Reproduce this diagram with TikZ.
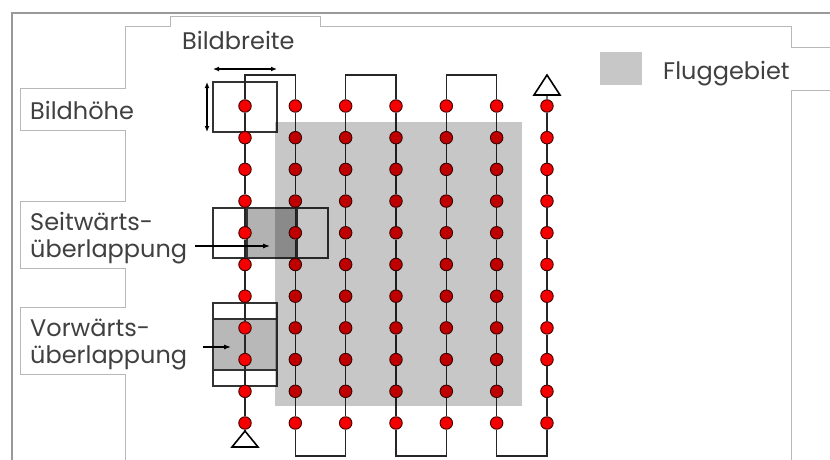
\documentclass[tikz,border=0pt]{standalone}
\usepackage{fontspec}
\setmainfont{Poppins}
\usetikzlibrary{arrows.meta}
\definecolor{rahmen}{gray}{0.6}
\definecolor{kasten}{gray}{0.72}
\definecolor{schrift}{gray}{0.25}
\definecolor{punkt}{RGB}{245,0,0}
\begin{document}
\begin{tikzpicture}[x=1pt,y=-1pt,
  wegpunkt/.style={circle,draw=black!75!red,fill=punkt,line width=0.9pt,minimum size=12.5pt,inner sep=0pt},
  flugweg/.style={draw=black!85,line width=1.4pt},
  bild/.style={draw=black!80,line width=1.2pt},
  marke/.style={draw=black,fill=white,line width=1.6pt,line join=miter},
  beschriftung/.style={font=\fontsize{24}{27}\selectfont,text=schrift,inner sep=0pt,align=left},
  masspfeil/.style={line width=1.2pt,{Latex[length=6pt,width=5pt]}-{Latex[length=6pt,width=5pt]}},
  zeigepfeil/.style={line width=1.1pt,-{Latex[length=7pt,width=5pt]}}]
\useasboundingbox (0,0) rectangle (830,460);
\fill[white] (0,0) rectangle (830,460);
\draw[rahmen,line width=1.5pt] (12,460) -- (12,13) -- (830,13);
\draw[kasten,line width=1pt] (125,460) -- (125,374) -- (20,374) -- (20,307) -- (125,307) -- (125,268) -- (20,268) -- (20,201) -- (125,201) -- (125,130) -- (20,130) -- (20,88) -- (125,88) -- (125,27) -- (170,27) -- (170,17) -- (320,17) -- (320,27) -- (791,27) -- (791,48) -- (830,48);
\draw[kasten,line width=1pt] (830,90) -- (791,90) -- (791,460);
\fill[black,opacity=.3] (247,208) rectangle (297,258);
\fill[black,opacity=.28] (213,319) rectangle (277,370);
\draw[bild] (213,82) rectangle (277,132);
\draw[bild] (213,208) rectangle (297,258);
\draw[bild] (247,208) rectangle (328,258);
\draw[bild] (213,303) rectangle (277,370);
\draw[bild] (213,319) rectangle (277,386);
\foreach \i in {0,...,6}{
  \coordinate (t\i) at (245+50.33*\i,75);
  \coordinate (b\i) at (245+50.33*\i,456);
  \foreach \j in {0,...,10}
    \node[wegpunkt] (p\i-\j) at (245+50.33*\i,106+31.7*\j) {};
  \foreach \j [count=\k from 1] in {0,...,9}
    \draw[flugweg] (p\i-\j) -- (p\i-\k);
}
\foreach \a/\b in {0/1,2/3,4/5}
  \draw[flugweg] (p\a-0) -- (t\a) -- (t\b) -- (p\b-0);
\foreach \a/\b in {1/2,3/4,5/6}
  \draw[flugweg] (p\a-10) -- (b\a) -- (b\b) -- (p\b-10);
\coordinate (start) at (245,431);
\coordinate (ziel) at (547,95);
\draw[flugweg] (p0-10) -- (start);
\draw[flugweg] (p6-0) -- (ziel);
\draw[marke] (start) -- ++(13,16) -- ++(-26,0) -- cycle;
\draw[marke] (ziel) -- ++(13,0) -- ++(-13,-20) -- ++(-13,20) -- cycle;
\fill[black,opacity=.22] (275,122) rectangle (522,406);
\node[fill=black!22,minimum width=42pt,minimum height=33pt] (legende) at (621,68.5) {};
\node[beschriftung,anchor=base west] (gebiet) at (663,80) {Fluggebiet};
\node[beschriftung,anchor=base west] (breite) at (182,49) {Bildbreite};
\node[beschriftung,anchor=base west] (hoehe) at (30,119) {Bildhöhe};
\node[beschriftung,anchor=north west] (seite) at (30,212) {Seitwärts-\\überlappung};
\node[beschriftung,anchor=north west] (vorne) at (30,319) {Vorwärts-\\überlappung};
\coordinate (bb-l) at (213,69);
\coordinate (bb-r) at (277,69);
\coordinate (bh-o) at (207,82);
\coordinate (bh-u) at (207,132);
\draw[masspfeil] (bb-l) -- (bb-r);
\draw[masspfeil] (bh-o) -- (bh-u);
\coordinate (sp-a) at (195,246);
\coordinate (sp-e) at (270,246);
\coordinate (vp-a) at (203,347);
\coordinate (vp-e) at (231,347);
\draw[zeigepfeil] (sp-a) -- (sp-e);
\draw[zeigepfeil] (vp-a) -- (vp-e);
\end{tikzpicture}
\end{document}
